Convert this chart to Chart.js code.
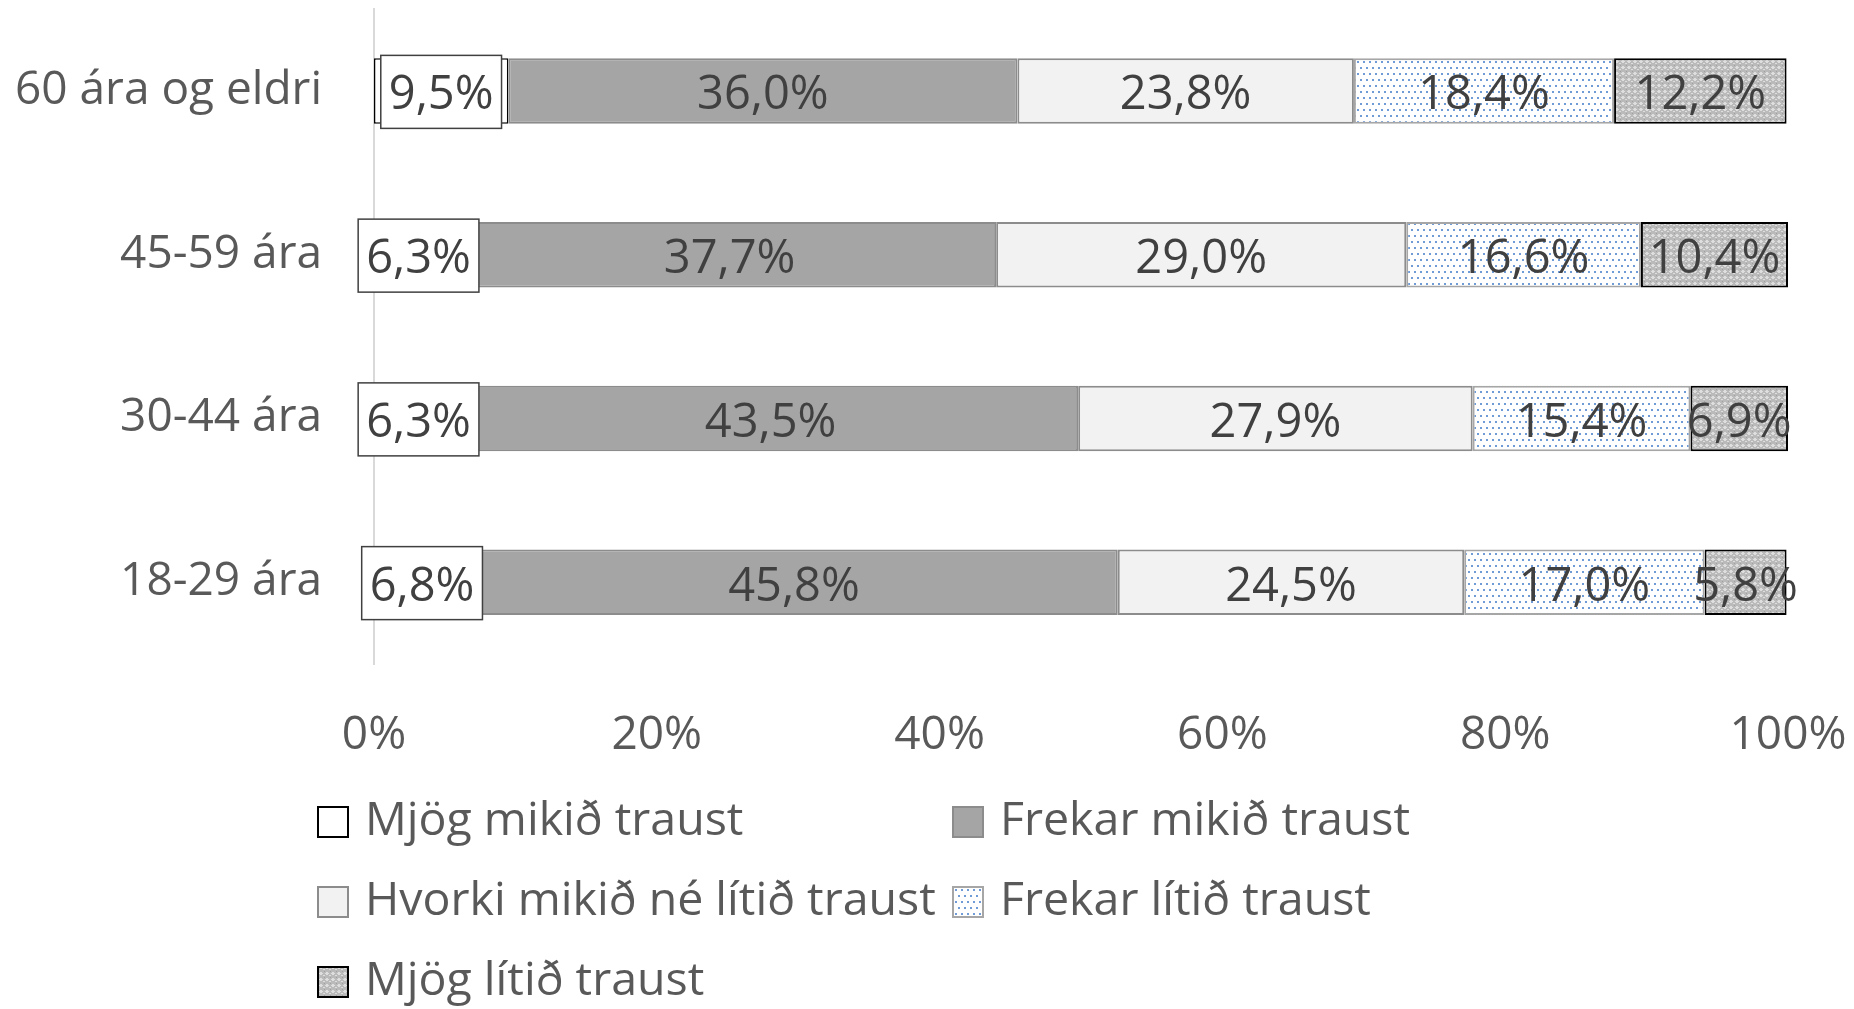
<!DOCTYPE html>
<html>
<head>
<meta charset="utf-8">
<title>Traust eftir aldri</title>
<script src="https://cdn.jsdelivr.net/npm/chart.js@4.4.1/dist/chart.umd.min.js"></script>
<style>
  html, body { margin: 0; padding: 0; background: #fff; }
  #wrap { width: 1854px; height: 1009px; }
</style>
</head>
<body>
<div id="wrap"><canvas id="trustChart" width="1854" height="1009"></canvas></div>
<script>
// categories, top to bottom
const ageGroups = ['60 ára og eldri', '45-59 ára', '30-44 ára', '18-29 ára'];

// series names
const seriesNames = [
  'Mjög mikið traust',
  'Frekar mikið traust',
  'Hvorki mikið né lítið traust',
  'Frekar lítið traust',
  'Mjög lítið traust'
];

// values in percent, one array per series
const mjogMikid = [9.5, 6.3, 6.3, 6.8];
const frekarMikid = [36.0, 37.7, 43.5, 45.8];
const hvorki = [23.8, 29.0, 27.9, 24.5];
const frekarLitid = [18.4, 16.6, 15.4, 17.0];
const mjogLitid = [12.2, 10.4, 6.9, 5.8];

const xTicks = [0, 20, 40, 60, 80, 100];

const FONT = "'Open Sans', 'DejaVu Sans', sans-serif";

// little tiles for the patterned fills
function dotPattern() {
  const c = document.createElement('canvas');
  c.width = 6; c.height = 12;
  const g = c.getContext('2d');
  g.fillStyle = '#ffffff';
  g.fillRect(0, 0, 6, 12);
  g.fillStyle = '#6f9bd6';
  g.fillRect(1, 1, 2, 2);
  g.fillRect(4, 7, 2, 2);
  return g.createPattern(c, 'repeat');
}

function hatchPattern() {
  const c = document.createElement('canvas');
  c.width = 6; c.height = 6;
  const g = c.getContext('2d');
  g.fillStyle = '#bababa';
  g.fillRect(0, 0, 6, 6);
  g.fillStyle = '#dedede';
  g.fillRect(2, 0, 2, 1);
  g.fillRect(1, 1, 4, 1);
  g.fillRect(2, 2, 2, 1);
  g.fillRect(5, 3, 1, 1);
  g.fillRect(0, 3, 1, 1);
  g.fillStyle = '#a0a0a0';
  g.fillRect(0, 5, 1, 1);
  return g.createPattern(c, 'repeat');
}

const fmt = v => v.toFixed(1).replace('.', ',') + '%';

// data labels centred on each segment, boxed for the first series
const barLabels = {
  id: 'barLabels',
  afterDatasetsDraw(chart) {
    const ctx = chart.ctx;
    ctx.save();
    ctx.font = '47px ' + FONT;
    ctx.textAlign = 'center';
    ctx.textBaseline = 'middle';
    chart.data.datasets.forEach((ds, di) => {
      const meta = chart.getDatasetMeta(di);
      meta.data.forEach((bar, i) => {
        const cx = (bar.x + bar.base) / 2;
        const cy = bar.y;
        const txt = fmt(ds.data[i]);
        if (di === 0) {
          const w = ctx.measureText(txt).width + 16;
          const h = 73;
          ctx.fillStyle = '#ffffff';
          ctx.fillRect(cx - w / 2, cy - h / 2 + 1, w, h);
          ctx.strokeStyle = '#404040';
          ctx.lineWidth = 1.5;
          ctx.strokeRect(cx - w / 2, cy - h / 2 + 1, w, h);
        }
        ctx.fillStyle = '#404040';
        ctx.fillText(txt, cx, cy + 5);
      });
    });
    ctx.restore();
  }
};

// two-column legend under the axis
const gridLegend = {
  id: 'gridLegend',
  afterDraw(chart) {
    const ctx = chart.ctx;
    const colX = [318, 953];
    const rowY = [822, 902, 982];
    ctx.save();
    ctx.font = '46.5px ' + FONT;
    ctx.textBaseline = 'middle';
    chart.data.datasets.forEach((ds, di) => {
      const x = colX[di % 2];
      const y = rowY[Math.floor(di / 2)];
      ctx.fillStyle = ds.backgroundColor;
      ctx.fillRect(x, y - 15, 30, 30);
      ctx.strokeStyle = ds.borderColor;
      ctx.lineWidth = 2;
      ctx.strokeRect(x, y - 15, 30, 30);
      ctx.fillStyle = '#595959';
      ctx.fillText(ds.label, x + 47, y);
    });
    ctx.restore();
  }
};

const fills = ['#ffffff', '#a5a5a5', '#f2f2f2', dotPattern(), hatchPattern()];
const borders = ['#000000', '#8c8c8c', '#8c8c8c', '#a6a6a6', '#000000'];
const borderWidths = [1.5, 2, 2, 2, 2];
const values = [mjogMikid, frekarMikid, hvorki, frekarLitid, mjogLitid];

const ctx = document.getElementById('trustChart').getContext('2d');
new Chart(ctx, {
  type: 'bar',
  data: {
    labels: ageGroups,
    datasets: seriesNames.map((name, i) => ({
      label: name,
      data: values[i],
      backgroundColor: fills[i],
      borderColor: borders[i],
      borderWidth: borderWidths[i],
      borderSkipped: false,
      barPercentage: 0.4,
      categoryPercentage: 1.0
    }))
  },
  options: {
    indexAxis: 'y',
    responsive: false,
    animation: false,
    devicePixelRatio: 1,
    layout: {
      padding: { top: 9, right: 66, bottom: 247, left: 0 }
    },
    plugins: {
      legend: { display: false },
      tooltip: { enabled: false }
    },
    scales: {
      x: {
        stacked: true,
        min: 0,
        max: 100,
        afterBuildTicks: scale => { scale.ticks = xTicks.map(v => ({ value: v })); },
        afterFit: scale => {
          scale.height = 98;
          scale.paddingLeft = 0;
          scale.paddingRight = 0;
        },
        grid: { display: false, drawTicks: false },
        border: { display: false },
        ticks: {
          padding: 44,
          maxRotation: 0,
          color: '#595959',
          font: { family: FONT, size: 46 },
          callback: v => v + '%'
        }
      },
      y: {
        stacked: true,
        afterFit: scale => {
          scale.width = 374;
          scale.paddingTop = 0;
          scale.paddingBottom = 0;
        },
        grid: { display: false, drawTicks: false },
        border: { display: true, color: '#d9d9d9', width: 2 },
        ticks: {
          padding: 52,
          color: '#595959',
          font: { family: FONT, size: 46 }
        }
      }
    }
  },
  plugins: [barLabels, gridLegend]
});
</script>
</body>
</html>
